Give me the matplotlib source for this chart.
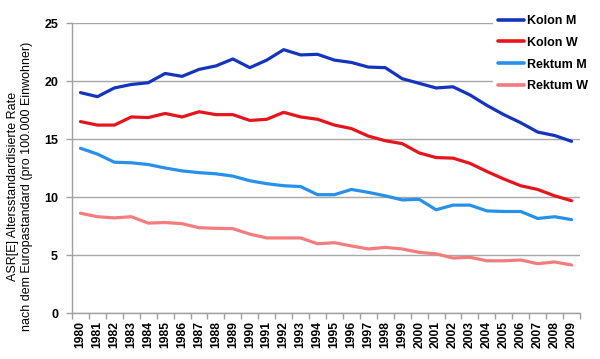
import matplotlib
matplotlib.use("Agg")
import matplotlib.pyplot as plt
import numpy as np

years = [str(y) for y in range(1980, 2010)]
kolon_m = [19.0, 18.65, 19.4, 19.7, 19.85, 20.65, 20.4, 21.0, 21.3, 21.9,
           21.15, 21.8, 22.7, 22.25, 22.3, 21.8, 21.6, 21.2, 21.15, 20.2,
           19.8, 19.4, 19.5, 18.8, 17.9, 17.1, 16.4, 15.6, 15.3, 14.8]
kolon_w = [16.5, 16.2, 16.2, 16.9, 16.85, 17.2, 16.9, 17.35, 17.1, 17.1,
           16.6, 16.7, 17.3, 16.9, 16.7, 16.2, 15.9, 15.25, 14.85, 14.6,
           13.8, 13.4, 13.35, 12.9, 12.2, 11.55, 10.97, 10.65, 10.1, 9.68]
rektum_m = [14.2, 13.7, 13.0, 12.95, 12.8, 12.5, 12.25, 12.1, 12.0, 11.8,
            11.4, 11.15, 10.97, 10.9, 10.2, 10.2, 10.65, 10.4, 10.1, 9.75,
            9.8, 8.9, 9.3, 9.3, 8.8, 8.75, 8.75, 8.15, 8.3, 8.05]
rektum_w = [8.6, 8.3, 8.2, 8.3, 7.75, 7.8, 7.7, 7.35, 7.3, 7.27,
            6.8, 6.47, 6.47, 6.47, 5.97, 6.06, 5.78, 5.52, 5.66, 5.52,
            5.23, 5.1, 4.74, 4.8, 4.5, 4.5, 4.57, 4.25, 4.4, 4.14]
series_names = ["Kolon M", "Kolon W", "Rektum M", "Rektum W"]
colors = ["#1434c0", "#e8141c", "#2690ea", "#f47c7c"]
yticks = [0, 5, 10, 15, 20, 25]
ylabel = "ASR[E] Altersstandardisierte Rate\nnach dem Europastandard (pro 100.000 Einwohner)"

plt.rcParams['font.family'] = ['Liberation Sans', 'DejaVu Sans']

W, H = 600, 359
fig = plt.figure(figsize=(W / 100, H / 100), dpi=100)
ax = fig.add_axes([72 / W, (H - 313) / H, 508 / W, 290 / H])

x = np.arange(len(years))
for vals, name, c in zip([kolon_m, kolon_w, rektum_m, rektum_w], series_names, colors):
    ax.plot(x, vals, color=c, lw=2.3, label=name, solid_capstyle='round', zorder=3)

ax.set_xlim(-0.5, len(years) - 0.5)
ax.set_ylim(0, 25)
ax.set_yticks(yticks)
ax.set_yticklabels([str(t) for t in yticks], fontsize=9, fontweight='bold')
ax.set_xticks(x)
ax.set_xticklabels(years, rotation=90, fontsize=8.7, fontweight='bold')
ax.set_xticks(np.arange(-0.5, len(years)), minor=True)
ax.tick_params(axis='x', which='major', length=0, pad=6)
ax.tick_params(axis='x', which='minor', length=4, color='#a0a0a0', width=1)
ax.tick_params(axis='y', length=4, color='#a0a0a0', width=1, pad=6)
ax.grid(axis='y', color='#a8a8a8', lw=1, zorder=1)
for s in ['top', 'right']:
    ax.spines[s].set_visible(False)
for s in ['left', 'bottom']:
    ax.spines[s].set_color('#a0a0a0')
    ax.spines[s].set_linewidth(1)

fig.text(20 / W, 1 - 186 / H, ylabel, rotation=90, ha='center', va='center',
         multialignment='center', fontsize=9, linespacing=1.25)

leg = fig.legend(loc='upper left', bbox_to_anchor=(493 / W, 1 - 10 / H),
                 frameon=True, fancybox=False, framealpha=1, edgecolor='none',
                 facecolor='white', borderpad=0.4, handlelength=2.1,
                 handletextpad=0.25, labelspacing=0.78, borderaxespad=0,
                 prop={'weight': 'bold', 'size': 9})
for lh in leg.get_lines():
    lh.set_linewidth(2.6)

fig.savefig("out.png", dpi=100)
